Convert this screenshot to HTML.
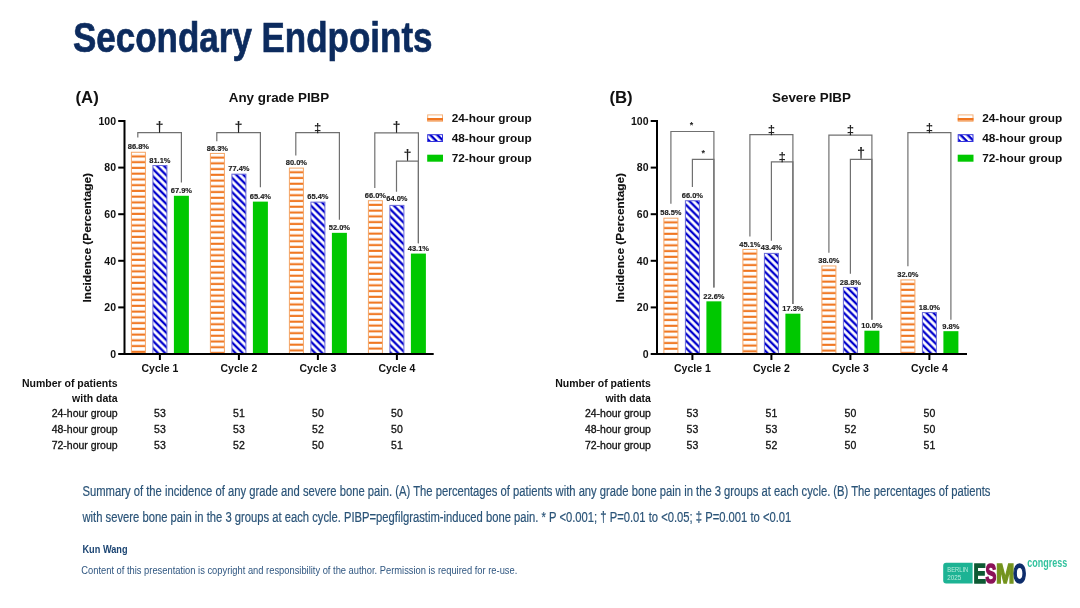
<!DOCTYPE html>
<html><head><meta charset="utf-8"><title>Secondary Endpoints</title>
<style>
html,body{margin:0;padding:0;background:#fff;}
body{width:1080px;height:608px;overflow:hidden;}
svg{display:block;will-change:transform;filter:blur(0.35px);}
text{font-family:"Liberation Sans", Arial, sans-serif;}
.lbl{font-size:7.5px;font-weight:bold;text-anchor:middle;fill:#222;stroke:#222;stroke-width:0.15px;}
.br{fill:none;stroke:#707070;stroke-width:1.2;}
.sym{font-size:14.5px;font-weight:bold;text-anchor:middle;fill:#222;}
.sym2{font-size:13.2px;font-weight:bold;text-anchor:middle;fill:#222;}
.ast{font-size:9px;font-weight:bold;text-anchor:middle;fill:#222;}
.tick{font-size:10.5px;font-weight:bold;text-anchor:end;fill:#111;}
.cyc{font-size:10.5px;font-weight:bold;text-anchor:middle;fill:#111;}
.ylab{font-size:11.2px;font-weight:bold;fill:#111;stroke:#111;stroke-width:0.15px;}
.plet{font-size:16.8px;font-weight:bold;fill:#111;}
.ptit{font-size:13.4px;font-weight:bold;text-anchor:middle;fill:#111;}
.leg{font-size:11px;font-weight:bold;fill:#111;}
.thb{font-size:10.5px;font-weight:bold;text-anchor:end;fill:#111;}
.thr{font-size:10.5px;text-anchor:end;fill:#111;stroke:#111;stroke-width:0.3px;}
.tv{font-size:10.5px;text-anchor:middle;fill:#111;stroke:#111;stroke-width:0.3px;}
.title{font-size:43px;font-weight:bold;fill:#0C2B5E;stroke:#0C2B5E;stroke-width:0.7px;}
.cap{font-size:13.8px;fill:#2B5478;stroke:#2B5478;stroke-width:0.2px;}
.auth{font-size:11px;font-weight:bold;fill:#1B4472;}
.copy{font-size:10.8px;fill:#2F5680;}
</style></head>
<body><svg width="1080" height="608" viewBox="0 0 1080 608">
<defs>
<pattern id="pOr" patternUnits="userSpaceOnUse" width="20" height="5.75" y="0.6">
<rect width="20" height="5.75" fill="#fff"/><rect y="3.6" width="20" height="2.15" fill="#F07620"/>
</pattern>
<pattern id="pBl" patternUnits="userSpaceOnUse" width="5.0" height="5.0" patternTransform="rotate(45)">
<rect width="5" height="5" fill="#fff"/><rect width="5" height="2.4" fill="#0000CC"/>
</pattern>
<pattern id="pBl2" patternUnits="userSpaceOnUse" width="5.0" height="5.0" patternTransform="rotate(45)">
<rect width="5" height="5" fill="#fff"/><rect width="5" height="2.4" fill="#0000CC"/>
</pattern>
</defs>
<text x="73" y="51.8" class="title" textLength="359.5" lengthAdjust="spacingAndGlyphs">Secondary Endpoints</text>
<pattern id="p0_0_0" patternUnits="userSpaceOnUse" width="20" height="5.747" patternTransform="translate(130.90 151.76)"><rect width="20" height="5.747" fill="#fff"/><rect y="3.59" width="20" height="2.1" fill="#F07620"/></pattern>
<rect x="131.40" y="152.26" width="14" height="201.74" fill="url(#p0_0_0)" stroke="#F4A565" stroke-width="1"/>
<text x="138.40" y="149.36" class="lbl">86.8%</text>
<pattern id="p0_0_1" patternUnits="userSpaceOnUse" width="10" height="5.063" patternTransform="translate(152.40 165.04) rotate(45)"><rect width="10" height="5.063" fill="#fff"/><rect y="1.33" width="10" height="2.3" fill="#0000CC"/></pattern>
<rect x="152.90" y="165.54" width="14" height="188.46" fill="url(#p0_0_1)" stroke="#6a6ad8" stroke-width="1"/>
<text x="159.90" y="162.64" class="lbl">81.1%</text>
<rect x="173.90" y="195.79" width="15" height="158.21" fill="#00C800"/>
<text x="181.40" y="193.39" class="lbl">67.9%</text>
<pattern id="p0_1_0" patternUnits="userSpaceOnUse" width="20" height="5.747" patternTransform="translate(209.90 152.92)"><rect width="20" height="5.747" fill="#fff"/><rect y="3.59" width="20" height="2.1" fill="#F07620"/></pattern>
<rect x="210.40" y="153.42" width="14" height="200.58" fill="url(#p0_1_0)" stroke="#F4A565" stroke-width="1"/>
<text x="217.40" y="150.52" class="lbl">86.3%</text>
<pattern id="p0_1_1" patternUnits="userSpaceOnUse" width="10" height="5.063" patternTransform="translate(231.40 173.66) rotate(45)"><rect width="10" height="5.063" fill="#fff"/><rect y="1.33" width="10" height="2.3" fill="#0000CC"/></pattern>
<rect x="231.90" y="174.16" width="14" height="179.84" fill="url(#p0_1_1)" stroke="#6a6ad8" stroke-width="1"/>
<text x="238.90" y="171.26" class="lbl">77.4%</text>
<rect x="252.90" y="201.62" width="15" height="152.38" fill="#00C800"/>
<text x="260.40" y="199.22" class="lbl">65.4%</text>
<pattern id="p0_2_0" patternUnits="userSpaceOnUse" width="20" height="5.747" patternTransform="translate(288.90 167.60)"><rect width="20" height="5.747" fill="#fff"/><rect y="3.59" width="20" height="2.1" fill="#F07620"/></pattern>
<rect x="289.40" y="168.10" width="14" height="185.90" fill="url(#p0_2_0)" stroke="#F4A565" stroke-width="1"/>
<text x="296.40" y="165.20" class="lbl">80.0%</text>
<pattern id="p0_2_1" patternUnits="userSpaceOnUse" width="10" height="5.063" patternTransform="translate(310.40 201.62) rotate(45)"><rect width="10" height="5.063" fill="#fff"/><rect y="1.33" width="10" height="2.3" fill="#0000CC"/></pattern>
<rect x="310.90" y="202.12" width="14" height="151.88" fill="url(#p0_2_1)" stroke="#6a6ad8" stroke-width="1"/>
<text x="317.90" y="199.22" class="lbl">65.4%</text>
<rect x="331.90" y="232.84" width="15" height="121.16" fill="#00C800"/>
<text x="339.40" y="230.44" class="lbl">52.0%</text>
<pattern id="p0_3_0" patternUnits="userSpaceOnUse" width="20" height="5.747" patternTransform="translate(367.90 200.22)"><rect width="20" height="5.747" fill="#fff"/><rect y="3.59" width="20" height="2.1" fill="#F07620"/></pattern>
<rect x="368.40" y="200.72" width="14" height="153.28" fill="url(#p0_3_0)" stroke="#F4A565" stroke-width="1"/>
<text x="375.40" y="197.82" class="lbl">66.0%</text>
<pattern id="p0_3_1" patternUnits="userSpaceOnUse" width="10" height="5.063" patternTransform="translate(389.40 204.88) rotate(45)"><rect width="10" height="5.063" fill="#fff"/><rect y="1.33" width="10" height="2.3" fill="#0000CC"/></pattern>
<rect x="389.90" y="205.38" width="14" height="148.62" fill="url(#p0_3_1)" stroke="#6a6ad8" stroke-width="1"/>
<text x="396.90" y="201.28" class="lbl">64.0%</text>
<rect x="410.90" y="253.58" width="15" height="100.42" fill="#00C800"/>
<text x="418.40" y="251.18" class="lbl">43.1%</text>
<path d="M137.80 137.60 V132.70 H181.40 V182.40" class="br"/>
<text x="159.60" y="131.70" class="sym">&#8224;</text>
<path d="M216.80 141.20 V132.70 H260.40 V187.30" class="br"/>
<text x="238.60" y="131.70" class="sym">&#8224;</text>
<path d="M295.80 155.60 V132.70 H339.40 V219.80" class="br"/>
<text x="317.60" y="131.70" class="sym2">&#8225;</text>
<path d="M374.80 188.00 V132.90 H418.40 V243.20" class="br"/>
<text x="396.60" y="131.90" class="sym">&#8224;</text>
<path d="M396.50 191.80 V161.10 H418.40 V243.20" class="br"/>
<text x="407.45" y="160.10" class="sym">&#8224;</text>
<path d="M124.50 120.00 V355" stroke="#000" stroke-width="2" fill="none"/>
<path d="M118.20 354 H433.70" stroke="#000" stroke-width="2" fill="none"/>
<path d="M118.20 307.40 H124.50" stroke="#000" stroke-width="2" fill="none"/>
<path d="M118.20 260.80 H124.50" stroke="#000" stroke-width="2" fill="none"/>
<path d="M118.20 214.20 H124.50" stroke="#000" stroke-width="2" fill="none"/>
<path d="M118.20 167.60 H124.50" stroke="#000" stroke-width="2" fill="none"/>
<path d="M118.20 121.00 H124.50" stroke="#000" stroke-width="2" fill="none"/>
<text x="116.00" y="357.70" class="tick">0</text>
<text x="116.00" y="311.10" class="tick">20</text>
<text x="116.00" y="264.50" class="tick">40</text>
<text x="116.00" y="217.90" class="tick">60</text>
<text x="116.00" y="171.30" class="tick">80</text>
<text x="116.00" y="124.70" class="tick">100</text>
<path d="M159.90 354 V360" stroke="#000" stroke-width="2" fill="none"/>
<text x="159.90" y="372.30" class="cyc">Cycle 1</text>
<path d="M238.90 354 V360" stroke="#000" stroke-width="2" fill="none"/>
<text x="238.90" y="372.30" class="cyc">Cycle 2</text>
<path d="M317.90 354 V360" stroke="#000" stroke-width="2" fill="none"/>
<text x="317.90" y="372.30" class="cyc">Cycle 3</text>
<path d="M396.90 354 V360" stroke="#000" stroke-width="2" fill="none"/>
<text x="396.90" y="372.30" class="cyc">Cycle 4</text>
<text transform="translate(91.20 237.8) rotate(-90)" class="ylab" text-anchor="middle" textLength="129.5" lengthAdjust="spacingAndGlyphs">Incidence (Percentage)</text>
<text x="75.50" y="102.5" class="plet">(A)</text>
<text x="279.00" y="102" class="ptit">Any grade PIBP</text>
<rect x="427.70" y="114.9" width="14.8" height="6.4" fill="#fff" stroke="#F6B27A" stroke-width="1"/>
<rect x="427.20" y="118" width="15.8" height="2.6" fill="#F07620"/>
<rect x="427.70" y="134.7" width="14.8" height="6.8" fill="url(#pBl2)" stroke="#3333DD" stroke-width="1"/>
<rect x="427.20" y="154.7" width="15.8" height="7" fill="#00C800"/>
<text x="451.70" y="122.20" class="leg" textLength="80" lengthAdjust="spacingAndGlyphs">24-hour group</text>
<text x="451.70" y="142.20" class="leg" textLength="80" lengthAdjust="spacingAndGlyphs">48-hour group</text>
<text x="451.70" y="162.20" class="leg" textLength="80" lengthAdjust="spacingAndGlyphs">72-hour group</text>
<text x="117.60" y="386.9" class="thb">Number of patients</text>
<text x="117.60" y="401.7" class="thb">with data</text>
<text x="117.60" y="417.40" class="thr">24-hour group</text>
<text x="159.90" y="417.40" class="tv">53</text>
<text x="238.90" y="417.40" class="tv">51</text>
<text x="317.90" y="417.40" class="tv">50</text>
<text x="396.90" y="417.40" class="tv">50</text>
<text x="117.60" y="432.80" class="thr">48-hour group</text>
<text x="159.90" y="432.80" class="tv">53</text>
<text x="238.90" y="432.80" class="tv">53</text>
<text x="317.90" y="432.80" class="tv">52</text>
<text x="396.90" y="432.80" class="tv">50</text>
<text x="117.60" y="448.50" class="thr">72-hour group</text>
<text x="159.90" y="448.50" class="tv">53</text>
<text x="238.90" y="448.50" class="tv">52</text>
<text x="317.90" y="448.50" class="tv">50</text>
<text x="396.90" y="448.50" class="tv">51</text>
<pattern id="p532_0_0" patternUnits="userSpaceOnUse" width="20" height="5.747" patternTransform="translate(663.40 217.69)"><rect width="20" height="5.747" fill="#fff"/><rect y="3.59" width="20" height="2.1" fill="#F07620"/></pattern>
<rect x="663.90" y="218.19" width="14" height="135.81" fill="url(#p532_0_0)" stroke="#F4A565" stroke-width="1"/>
<text x="670.90" y="215.29" class="lbl">58.5%</text>
<pattern id="p532_0_1" patternUnits="userSpaceOnUse" width="10" height="5.063" patternTransform="translate(684.90 200.22) rotate(45)"><rect width="10" height="5.063" fill="#fff"/><rect y="1.33" width="10" height="2.3" fill="#0000CC"/></pattern>
<rect x="685.40" y="200.72" width="14" height="153.28" fill="url(#p532_0_1)" stroke="#6a6ad8" stroke-width="1"/>
<text x="692.40" y="197.82" class="lbl">66.0%</text>
<rect x="706.40" y="301.34" width="15" height="52.66" fill="#00C800"/>
<text x="713.90" y="298.94" class="lbl">22.6%</text>
<pattern id="p532_1_0" patternUnits="userSpaceOnUse" width="20" height="5.747" patternTransform="translate(742.40 248.92)"><rect width="20" height="5.747" fill="#fff"/><rect y="3.59" width="20" height="2.1" fill="#F07620"/></pattern>
<rect x="742.90" y="249.42" width="14" height="104.58" fill="url(#p532_1_0)" stroke="#F4A565" stroke-width="1"/>
<text x="749.90" y="246.52" class="lbl">45.1%</text>
<pattern id="p532_1_1" patternUnits="userSpaceOnUse" width="10" height="5.063" patternTransform="translate(763.90 252.88) rotate(45)"><rect width="10" height="5.063" fill="#fff"/><rect y="1.33" width="10" height="2.3" fill="#0000CC"/></pattern>
<rect x="764.40" y="253.38" width="14" height="100.62" fill="url(#p532_1_1)" stroke="#6a6ad8" stroke-width="1"/>
<text x="771.40" y="250.48" class="lbl">43.4%</text>
<rect x="785.40" y="313.69" width="15" height="40.31" fill="#00C800"/>
<text x="792.90" y="311.29" class="lbl">17.3%</text>
<pattern id="p532_2_0" patternUnits="userSpaceOnUse" width="20" height="5.747" patternTransform="translate(821.40 265.46)"><rect width="20" height="5.747" fill="#fff"/><rect y="3.59" width="20" height="2.1" fill="#F07620"/></pattern>
<rect x="821.90" y="265.96" width="14" height="88.04" fill="url(#p532_2_0)" stroke="#F4A565" stroke-width="1"/>
<text x="828.90" y="263.06" class="lbl">38.0%</text>
<pattern id="p532_2_1" patternUnits="userSpaceOnUse" width="10" height="5.063" patternTransform="translate(842.90 286.90) rotate(45)"><rect width="10" height="5.063" fill="#fff"/><rect y="1.33" width="10" height="2.3" fill="#0000CC"/></pattern>
<rect x="843.40" y="287.40" width="14" height="66.60" fill="url(#p532_2_1)" stroke="#6a6ad8" stroke-width="1"/>
<text x="850.40" y="284.50" class="lbl">28.8%</text>
<rect x="864.40" y="330.70" width="15" height="23.30" fill="#00C800"/>
<text x="871.90" y="328.30" class="lbl">10.0%</text>
<pattern id="p532_3_0" patternUnits="userSpaceOnUse" width="20" height="5.747" patternTransform="translate(900.40 279.44)"><rect width="20" height="5.747" fill="#fff"/><rect y="3.59" width="20" height="2.1" fill="#F07620"/></pattern>
<rect x="900.90" y="279.94" width="14" height="74.06" fill="url(#p532_3_0)" stroke="#F4A565" stroke-width="1"/>
<text x="907.90" y="277.04" class="lbl">32.0%</text>
<pattern id="p532_3_1" patternUnits="userSpaceOnUse" width="10" height="5.063" patternTransform="translate(921.90 312.06) rotate(45)"><rect width="10" height="5.063" fill="#fff"/><rect y="1.33" width="10" height="2.3" fill="#0000CC"/></pattern>
<rect x="922.40" y="312.56" width="14" height="41.44" fill="url(#p532_3_1)" stroke="#6a6ad8" stroke-width="1"/>
<text x="929.40" y="309.66" class="lbl">18.0%</text>
<rect x="943.40" y="331.17" width="15" height="22.83" fill="#00C800"/>
<text x="950.90" y="328.77" class="lbl">9.8%</text>
<path d="M670.90 203.80 V131.50 H713.90 V287.60" class="br"/>
<text x="691.40" y="127.90" class="ast">*</text>
<path d="M692.40 187.00 V159.30 H713.90 V287.60" class="br"/>
<text x="703.15" y="155.70" class="ast">*</text>
<path d="M749.90 236.60 V134.70 H792.90 V304.00" class="br"/>
<text x="771.40" y="133.70" class="sym2">&#8225;</text>
<path d="M771.40 240.70 V161.80 H792.90 V304.00" class="br"/>
<text x="782.15" y="160.80" class="sym2">&#8225;</text>
<path d="M828.90 252.80 V135.20 H871.90 V319.80" class="br"/>
<text x="850.40" y="134.20" class="sym2">&#8225;</text>
<path d="M850.40 273.70 V159.30 H871.90 V319.80" class="br"/>
<text x="861.15" y="158.30" class="sym">&#8224;</text>
<path d="M907.90 266.30 V132.70 H950.90 V319.80" class="br"/>
<text x="929.40" y="131.70" class="sym2">&#8225;</text>
<path d="M657.00 120.00 V355" stroke="#000" stroke-width="2" fill="none"/>
<path d="M650.70 354 H967.00" stroke="#000" stroke-width="2" fill="none"/>
<path d="M650.70 307.40 H657.00" stroke="#000" stroke-width="2" fill="none"/>
<path d="M650.70 260.80 H657.00" stroke="#000" stroke-width="2" fill="none"/>
<path d="M650.70 214.20 H657.00" stroke="#000" stroke-width="2" fill="none"/>
<path d="M650.70 167.60 H657.00" stroke="#000" stroke-width="2" fill="none"/>
<path d="M650.70 121.00 H657.00" stroke="#000" stroke-width="2" fill="none"/>
<text x="648.50" y="357.70" class="tick">0</text>
<text x="648.50" y="311.10" class="tick">20</text>
<text x="648.50" y="264.50" class="tick">40</text>
<text x="648.50" y="217.90" class="tick">60</text>
<text x="648.50" y="171.30" class="tick">80</text>
<text x="648.50" y="124.70" class="tick">100</text>
<path d="M692.40 354 V360" stroke="#000" stroke-width="2" fill="none"/>
<text x="692.40" y="372.30" class="cyc">Cycle 1</text>
<path d="M771.40 354 V360" stroke="#000" stroke-width="2" fill="none"/>
<text x="771.40" y="372.30" class="cyc">Cycle 2</text>
<path d="M850.40 354 V360" stroke="#000" stroke-width="2" fill="none"/>
<text x="850.40" y="372.30" class="cyc">Cycle 3</text>
<path d="M929.40 354 V360" stroke="#000" stroke-width="2" fill="none"/>
<text x="929.40" y="372.30" class="cyc">Cycle 4</text>
<text transform="translate(623.70 237.8) rotate(-90)" class="ylab" text-anchor="middle" textLength="129.5" lengthAdjust="spacingAndGlyphs">Incidence (Percentage)</text>
<text x="609.40" y="102.5" class="plet">(B)</text>
<text x="811.50" y="102" class="ptit">Severe PIBP</text>
<rect x="958.20" y="114.9" width="14.8" height="6.4" fill="#fff" stroke="#F6B27A" stroke-width="1"/>
<rect x="957.70" y="118" width="15.8" height="2.6" fill="#F07620"/>
<rect x="958.20" y="134.7" width="14.8" height="6.8" fill="url(#pBl2)" stroke="#3333DD" stroke-width="1"/>
<rect x="957.70" y="154.7" width="15.8" height="7" fill="#00C800"/>
<text x="982.20" y="122.20" class="leg" textLength="80" lengthAdjust="spacingAndGlyphs">24-hour group</text>
<text x="982.20" y="142.20" class="leg" textLength="80" lengthAdjust="spacingAndGlyphs">48-hour group</text>
<text x="982.20" y="162.20" class="leg" textLength="80" lengthAdjust="spacingAndGlyphs">72-hour group</text>
<text x="650.90" y="386.9" class="thb">Number of patients</text>
<text x="650.90" y="401.7" class="thb">with data</text>
<text x="650.90" y="417.40" class="thr">24-hour group</text>
<text x="692.40" y="417.40" class="tv">53</text>
<text x="771.40" y="417.40" class="tv">51</text>
<text x="850.40" y="417.40" class="tv">50</text>
<text x="929.40" y="417.40" class="tv">50</text>
<text x="650.90" y="432.80" class="thr">48-hour group</text>
<text x="692.40" y="432.80" class="tv">53</text>
<text x="771.40" y="432.80" class="tv">53</text>
<text x="850.40" y="432.80" class="tv">52</text>
<text x="929.40" y="432.80" class="tv">50</text>
<text x="650.90" y="448.50" class="thr">72-hour group</text>
<text x="692.40" y="448.50" class="tv">53</text>
<text x="771.40" y="448.50" class="tv">52</text>
<text x="850.40" y="448.50" class="tv">50</text>
<text x="929.40" y="448.50" class="tv">51</text>
<text x="82.5" y="496" class="cap" textLength="908" lengthAdjust="spacingAndGlyphs">Summary of the incidence of any grade and severe bone pain. (A) The percentages of patients with any grade bone pain in the 3 groups at each cycle. (B) The percentages of patients</text>
<text x="82.5" y="522" class="cap" textLength="708.8" lengthAdjust="spacingAndGlyphs">with severe bone pain in the 3 groups at each cycle. PIBP=pegfilgrastim-induced bone pain. * P &lt;0.001; &#8224; P=0.01 to &lt;0.05; &#8225; P=0.001 to &lt;0.01</text>
<text x="82.5" y="553.2" class="auth" textLength="45" lengthAdjust="spacingAndGlyphs">Kun Wang</text>
<text x="81.3" y="573.7" class="copy" textLength="436" lengthAdjust="spacingAndGlyphs">Content of this presentation is copyright and responsibility of the author. Permission is required for re-use.</text>
<g>
<path d="M946.2 562.8 H972.6 V583.6 H946.2 Q943.2 583.6 943.2 580.6 V565.8 Q943.2 562.8 946.2 562.8 Z" fill="#1DB394"/>
<text x="947.3" y="572.3" font-size="7.6" fill="#B9EEDD" textLength="20.9" lengthAdjust="spacingAndGlyphs">BERLIN</text>
<text x="947.3" y="580" font-size="7.6" fill="#B9EEDD" textLength="14" lengthAdjust="spacingAndGlyphs">2025</text>
<text x="973.4" y="582.6" font-size="27" font-weight="bold" fill="#0E5A33" textLength="12.4" lengthAdjust="spacingAndGlyphs" stroke="#0E5A33" stroke-width="1.7">E</text>
<text x="985.4" y="582.6" font-size="27" font-weight="bold" fill="#8B1258" textLength="10.8" lengthAdjust="spacingAndGlyphs" stroke="#8B1258" stroke-width="1.7">S</text>
<text x="996.0" y="582.6" font-size="27" font-weight="bold" fill="#71901E" textLength="18.4" lengthAdjust="spacingAndGlyphs" stroke="#76961F" stroke-width="1.7">M</text>
<text x="1013.2" y="582.6" font-size="27" font-weight="bold" fill="#0E2D6B" textLength="12.8" lengthAdjust="spacingAndGlyphs" stroke="#0E2D6B" stroke-width="1.7">O</text>
<text x="1027.2" y="566.8" font-size="12.2" font-weight="bold" fill="#33C29E" textLength="40" lengthAdjust="spacingAndGlyphs">congress</text>
</g>
</svg></body></html>
